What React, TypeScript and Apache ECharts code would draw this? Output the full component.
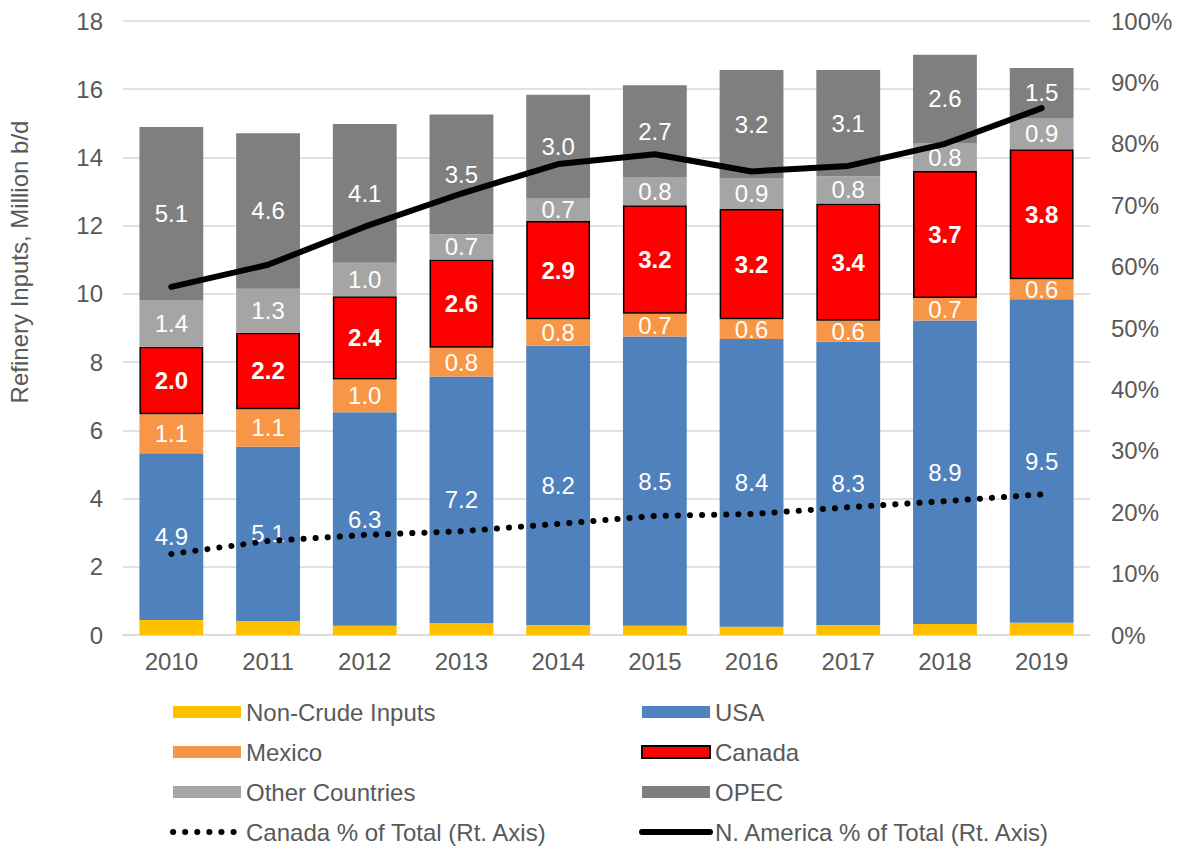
import React, { useEffect, useRef } from "react";
import * as echarts from "echarts";

const years = ["2010", "2011", "2012", "2013", "2014", "2015", "2016", "2017", "2018", "2019"];
const nonCrude = [0.44, 0.41, 0.27, 0.35, 0.29, 0.27, 0.24, 0.29, 0.32, 0.36];
const usa = [4.89, 5.11, 6.26, 7.23, 8.19, 8.48, 8.44, 8.31, 8.9, 9.48];
const mexico = [1.14, 1.1, 0.96, 0.84, 0.78, 0.67, 0.58, 0.61, 0.66, 0.59];
const canada = [1.98, 2.24, 2.44, 2.59, 2.88, 3.18, 3.23, 3.44, 3.72, 3.81];
const otherCountries = [1.37, 1.29, 0.98, 0.74, 0.67, 0.83, 0.91, 0.8, 0.82, 0.92];
const opec = [5.07, 4.56, 4.07, 3.51, 3.03, 2.69, 3.16, 3.11, 2.59, 1.46];
const canadaPct = [13.2, 15.3, 16.3, 16.9, 18.1, 19.4, 19.7, 20.8, 21.8, 22.9];
const naPct = [56.7, 60.3, 66.5, 71.9, 76.7, 78.3, 75.5, 76.4, 80.0, 85.8];

const FONT = "'Liberation Sans', Arial, sans-serif";
const TXT = "#595959";

export default function App() {
  const ref = useRef<HTMLDivElement>(null);
  useEffect(() => {
    if (!ref.current) return;
    const chart = echarts.init(ref.current, undefined, { renderer: "svg" });
    const lbl = (bold: boolean) => ({
      show: true,
      position: "inside",
      color: "#ffffff",
      fontSize: 24,
      fontFamily: FONT,
      fontWeight: bold ? "bold" : "normal",
      formatter: (p: any) => Number(p.value).toFixed(1),
    });
    const bar = (name: string, data: number[], color: string, label: any, extra: any = {}) => ({
      name,
      type: "bar",
      stack: "total",
      data,
      barWidth: "66%",
      itemStyle: { color, ...extra },
      label,
    });
    const legendText = { color: TXT, fontSize: 24, fontFamily: FONT };
    const dotted = { width: 6, type: [0.1, 12], cap: "round" };
    const solid = { width: 6, cap: "round", join: "round" };
    chart.setOption({
      animation: false,
      textStyle: { fontFamily: FONT },
      grid: { left: 123, right: 89, top: 21, bottom: 211, containLabel: false },
      graphic: [
        {
          type: "text",
          x: 19,
          y: 262,
          rotation: Math.PI / 2,
          style: {
            text: "Refinery Inputs, Million b/d",
            fontSize: 24,
            fontFamily: FONT,
            fill: TXT,
            align: "center",
            verticalAlign: "middle",
          },
        },
      ],
      legend: [
        {
          orient: "vertical",
          left: 170,
          top: 700,
          padding: 0,
          itemWidth: 68,
          itemHeight: 12,
          itemGap: 16,
          textStyle: legendText,
          data: [
            { name: "Non-Crude Inputs", icon: "rect" },
            { name: "Mexico", icon: "rect" },
            { name: "Other Countries", icon: "rect" },
            { name: "Canada % of Total (Rt. Axis)", lineStyle: dotted, itemStyle: { opacity: 0 } },
          ],
        },
        {
          orient: "vertical",
          left: 639,
          top: 700,
          padding: 0,
          itemWidth: 68,
          itemHeight: 12,
          itemGap: 16,
          textStyle: legendText,
          data: [
            { name: "USA", icon: "rect" },
            { name: "Canada", icon: "rect" },
            { name: "OPEC", icon: "rect" },
            { name: "N. America % of Total (Rt. Axis)", lineStyle: solid, itemStyle: { opacity: 0 } },
          ],
        },
      ],
      xAxis: {
        type: "category",
        data: years,
        axisLine: { lineStyle: { color: "#d9d9d9", width: 1.5 } },
        axisTick: { show: false },
        axisLabel: { color: TXT, fontSize: 24, fontFamily: FONT, margin: 14 },
      },
      yAxis: [
        {
          type: "value",
          min: 0,
          max: 18,
          interval: 2,
          axisLine: { show: false },
          axisTick: { show: false },
          axisLabel: { color: TXT, fontSize: 24, fontFamily: FONT, margin: 20 },
          splitLine: { lineStyle: { color: "#d9d9d9", width: 1.5 } },
        },
        {
          type: "value",
          min: 0,
          max: 100,
          interval: 10,
          axisLine: { show: false },
          axisTick: { show: false },
          axisLabel: { color: TXT, fontSize: 24, fontFamily: FONT, margin: 21, formatter: "{value}%" },
          splitLine: { show: false },
        },
      ],
      series: [
        bar("Non-Crude Inputs", nonCrude, "#ffc000", { show: false }),
        bar("USA", usa, "#4f81bd", lbl(false)),
        bar("Mexico", mexico, "#f79646", lbl(false)),
        bar("Canada", canada, "#ff0000", lbl(true), { borderColor: "#000000", borderWidth: 1.5 }),
        bar("Other Countries", otherCountries, "#a5a5a5", lbl(false)),
        bar("OPEC", opec, "#7f7f7f", lbl(false)),
        {
          name: "Canada % of Total (Rt. Axis)",
          type: "line",
          yAxisIndex: 1,
          data: canadaPct,
          symbol: "none",
          color: "#000000",
          lineStyle: { color: "#000000", ...dotted },
          z: 5,
        },
        {
          name: "N. America % of Total (Rt. Axis)",
          type: "line",
          yAxisIndex: 1,
          data: naPct,
          symbol: "none",
          color: "#000000",
          lineStyle: { color: "#000000", ...solid },
          z: 5,
        },
      ],
    });
    return () => chart.dispose();
  }, []);
  return <div ref={ref} style={{ position: "absolute", left: 0, top: 0, width: 1179, height: 846 }} />;
}
